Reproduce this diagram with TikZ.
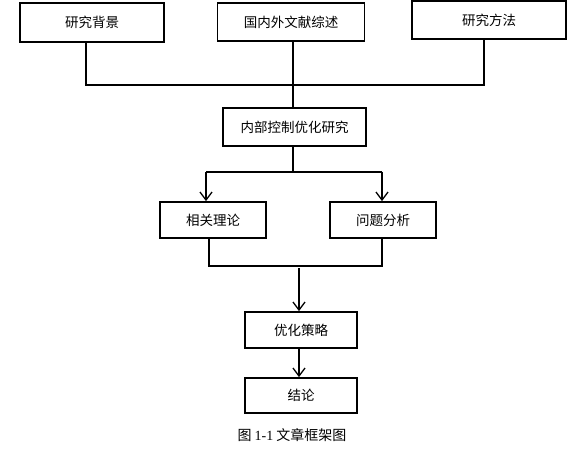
\documentclass[tikz,border=0pt]{standalone}
\usepackage{fontspec}
\setmainfont{Noto Sans CJK SC}
\newfontfamily\digitfont{Liberation Serif}
\usetikzlibrary{arrows.meta}
\tikzset{
  box/.style={draw, line width=1.8pt, minimum width=#1, inner sep=0pt, font=\fontsize{13.5pt}{15pt}\selectfont},
  conn/.style={line width=1.8pt},
  arr/.style={line width=1.3pt, -{Straight Barb[length=8pt,width=12pt,line width=1.3pt]}}
}
\begin{document}
\begin{tikzpicture}[x=1pt,y=-1pt]
\useasboundingbox (0,0) rectangle (587,460);
\node[box=144pt, minimum height=39pt] (a) at (92,22.5) {研究背景};
\node[box=147pt, minimum height=38pt] (b) at (291,22) {国内外文献综述};
\node[box=154pt, minimum height=38pt] (c) at (489,20) {研究方法};
\node[box=143pt, minimum height=38pt] (d) at (294.5,127) {内部控制优化研究};
\node[box=106pt, minimum height=36pt] (e) at (213,220) {相关理论};
\node[box=106pt, minimum height=36pt] (f) at (383,220) {问题分析};
\node[box=112pt, minimum height=36pt] (g) at (301,330) {优化策略};
\node[box=112pt, minimum height=35pt] (h) at (301,395.5) {结论};
\node[font=\fontsize{14pt}{16pt}\selectfont, inner sep=0pt] (cap) at (292,435) {图 {\digitfont 1-1} 文章框架图};
% top merge
\draw[conn] ([xshift=-6pt]a.south) |- ([xshift=-5pt]c.south |- 0,85) -- ([xshift=-5pt]c.south);
\draw[conn] ([xshift=2pt]b.south) -- ([xshift=2pt]b.south |- d.north);
% split
\draw[conn] ([xshift=-1.5pt]d.south) -- ([xshift=-1.5pt]d.south |- 0,172);
\draw[conn] ([xshift=-7pt]e.north |- 0,172) -- ([xshift=-1pt]f.north |- 0,172);
\draw[arr] ([xshift=-7pt]e.north |- 0,171.5) -- ([xshift=-7pt]e.north);
\draw[arr] ([xshift=-1pt]f.north |- 0,171.5) -- ([xshift=-1pt]f.north);
% merge
\draw[conn] ([xshift=-4pt]e.south) |- ([xshift=-1pt]f.south |- 0,266) -- ([xshift=-1pt]f.south);
\draw[arr] ([xshift=-2pt]g.north |- 0,268) -- ([xshift=-2pt]g.north);
\draw[arr] ([xshift=-2pt]g.south) -- ([xshift=-2pt]h.north);
\end{tikzpicture}
\end{document}
